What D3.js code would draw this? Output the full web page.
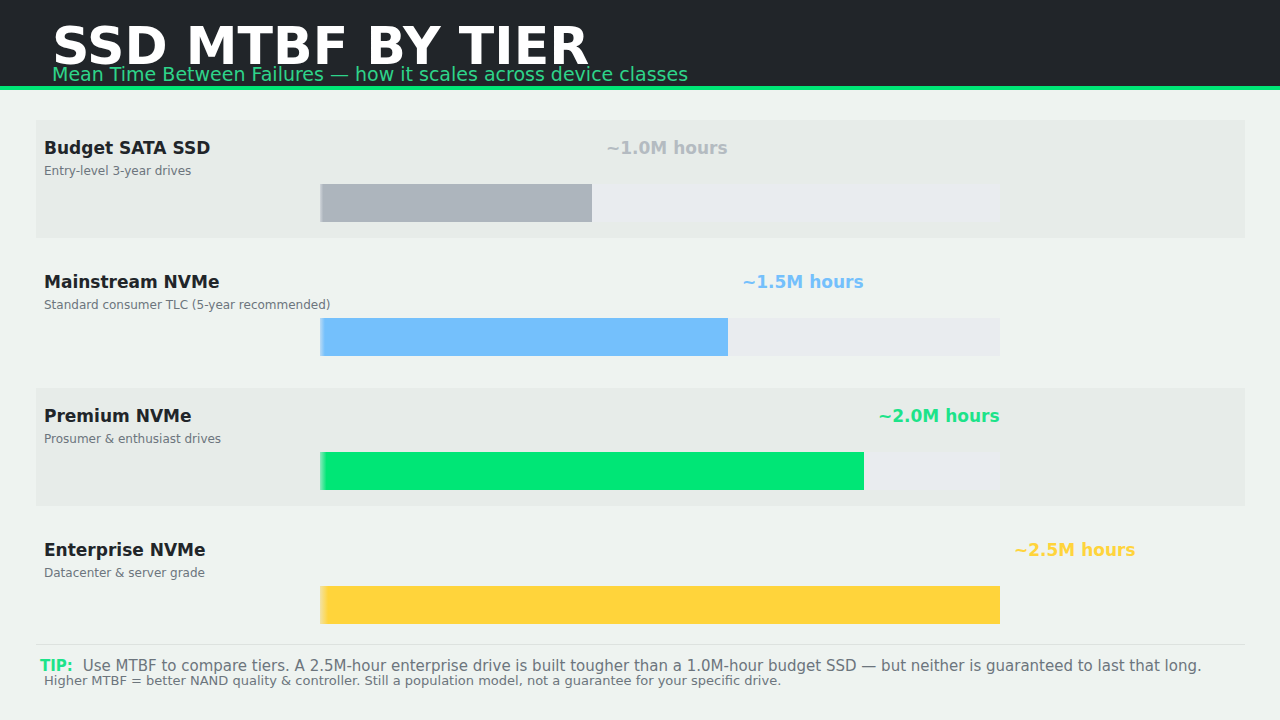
<!DOCTYPE html>
<html><head><meta charset="utf-8">
<script src="https://cdn.jsdelivr.net/npm/d3@7"></script>
<style>
html,body{margin:0;padding:0;background:#eef3f0;}
svg{display:block;font-family:"DejaVu Sans",sans-serif;}
</style></head>
<body>
<svg id="chart" width="1280" height="720"></svg>
<script>
const tiers = ["Budget SATA SSD","Mainstream NVMe","Premium NVMe","Enterprise NVMe"];
const descriptions = ["Entry-level 3-year drives","Standard consumer TLC (5-year recommended)","Prosumer & enthusiast drives","Datacenter & server grade"];
const mtbfMillions = [1.0,1.5,2.0,2.5];
const valueLabels = ["~1.0M hours","~1.5M hours","~2.0M hours","~2.5M hours"];
const barColors = ["#adb5bd","#74c0fc","#00e676","#ffd43b"];
const labelColors = ["#b4bbc1","#74c0fc","#1de38a","#ffd43b"];

const svg = d3.select("#chart");
// header
svg.append("rect").attr("x",0).attr("y",0).attr("width",1280).attr("height",86).attr("fill","#212529");
svg.append("rect").attr("x",0).attr("y",86).attr("width",1280).attr("height",4).attr("fill","#00e676");
svg.append("text").attr("x",52).attr("y",64).attr("fill","#ffffff").attr("font-size",52).attr("font-weight","bold").text("SSD MTBF BY TIER");
svg.append("text").attr("x",52).attr("y",81).attr("fill","#2ed48a").attr("font-size",19).text("Mean Time Between Failures \u2014 how it scales across device classes");

const x = d3.scaleLinear().domain([0,2.5]).range([320,1000]);
const y = d3.scaleBand().domain(tiers).range([120,656]).paddingInner(0).paddingOuter(0);
const rowH = 118;

const defs = svg.append("defs");
barColors.forEach((c,i)=>{
  const g = defs.append("linearGradient").attr("id","g"+i).attr("x1","0").attr("x2","1");
  g.append("stop").attr("offset","0").attr("stop-color",c).attr("stop-opacity",0.4);
  g.append("stop").attr("offset","0.012").attr("stop-color",c).attr("stop-opacity",1);
  g.append("stop").attr("offset","1").attr("stop-color",c).attr("stop-opacity",1);
});

const rows = svg.selectAll("g.row").data(tiers).join("g").attr("class","row")
  .attr("transform",d=>`translate(0,${y(d)})`);

rows.filter((d,i)=>i%2===0).append("rect").attr("x",36).attr("y",0).attr("width",1209).attr("height",rowH).attr("fill","#e7ece9");

rows.append("text").attr("x",44).attr("y",34).attr("font-size",17).attr("font-weight","bold").attr("fill","#212529").text(d=>d);
rows.append("text").attr("x",44).attr("y",55).attr("font-size",12).attr("fill","#6c757d").text((d,i)=>descriptions[i]);

rows.append("rect").attr("x",x(0)).attr("y",64).attr("width",x(2.5)-x(0)).attr("height",38).attr("fill","#e9ecef");
rows.append("rect").attr("x",x(0)).attr("y",64).attr("width",(d,i)=>x(mtbfMillions[i])-x(0)).attr("height",38).attr("fill",(d,i)=>`url(#g${i})`);
rows.append("text").attr("x",(d,i)=>x(mtbfMillions[i])+14).attr("y",34).attr("font-size",17).attr("font-weight","bold")
  .attr("fill",(d,i)=>labelColors[i]).text((d,i)=>valueLabels[i]);

// footer
svg.append("line").attr("x1",36).attr("x2",1245).attr("y1",644.5).attr("y2",644.5).attr("stroke","#dde2df").attr("stroke-width",1);
const tip = svg.append("text").attr("x",40).attr("y",671).attr("font-size",15);
tip.append("tspan").attr("fill","#1de38a").attr("font-weight","bold").text("TIP:");
tip.append("tspan").attr("fill","#6c757d").attr("dx",10).text("Use MTBF to compare tiers. A 2.5M-hour enterprise drive is built tougher than a 1.0M-hour budget SSD \u2014 but neither is guaranteed to last that long.");
svg.append("text").attr("x",44).attr("y",685).attr("font-size",13).attr("fill","#6c757d").text("Higher MTBF = better NAND quality & controller. Still a population model, not a guarantee for your specific drive.");
</script>
</body></html>
